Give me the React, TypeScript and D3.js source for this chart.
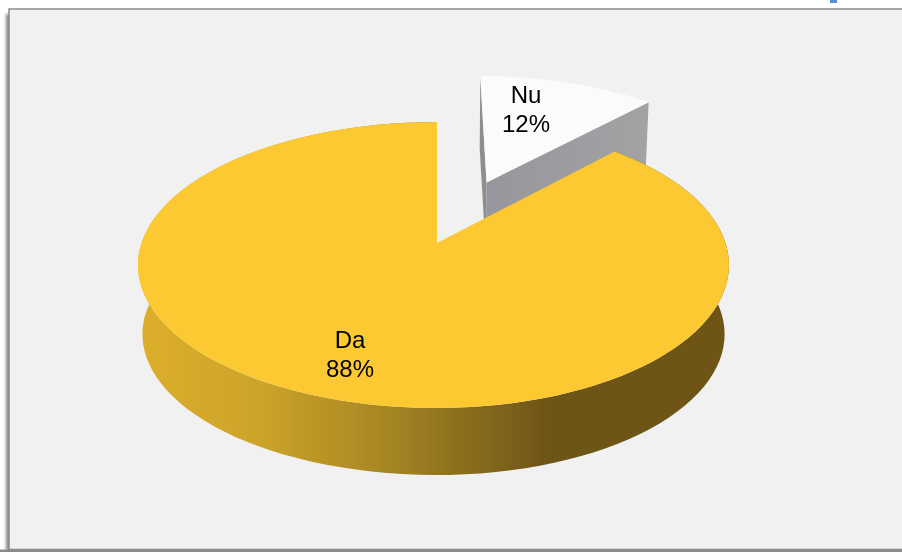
import React from "react";
import * as d3 from "d3";

const categories = ["Da", "Nu"];
const shares = [88, 12];
const sliceLabels = ["88%", "12%"];

const W = 902, H = 552;
const cx = 437, apexY = 243, BRight = 288.5, BLeft = 295.5, A = 139.6, k = 0.154;
const drop = 69.5, bottomScale = 0.985, explode = 0.5;

type Pt = [number, number];
const project = (u: number, v: number, low = false): Pt => {
  const w = 1 + k * v;
  const s = low ? bottomScale : 1;
  const B = u >= 0 ? BRight : BLeft;
  return [cx + (s * B * u) / w, apexY + (low ? drop : 0) - (s * A * v) / w];
};

const arcs = d3
  .pie<number>()
  .sort(null)
  .startAngle(0.12 * 2 * Math.PI)
  .endAngle(2.24 * Math.PI)(shares);

const line = d3.line<Pt>().curve(d3.curveLinear);

function geometry(i: number) {
  const a = arcs[i];
  const mid = (a.startAngle + a.endAngle) / 2;
  const e = i === 1 ? explode : 0;
  const ox = e * Math.sin(mid), oy = e * Math.cos(mid);
  const angles = d3.range(0, 121).map((t) => a.startAngle + ((a.endAngle - a.startAngle) * t) / 120);
  const rim = (low: boolean) => angles.map((t) => project(ox + Math.sin(t), oy + Math.cos(t), low));
  const apex = (low: boolean) => project(ox, oy, low);
  return { rimTop: rim(false), rimLow: rim(true), apexTop: apex(false), apexLow: apex(true), ox, oy };
}

const da = geometry(0);
const nu = geometry(1);

const closed = (pts: Pt[]) => line(pts) + "Z";

export default function App() {
  const nuEndTop = nu.rimTop[0], nuStartTop = nu.rimTop[120];
  const nuEndLow = nu.rimLow[0], nuStartLow = nu.rimLow[120];
  const innerLeft = closed([nuEndTop, nu.apexTop, nu.apexLow, nuEndLow]);
  const innerRight = closed([nu.apexTop, nuStartTop, nuStartLow, nu.apexLow]);
  const daWall = closed([...da.rimTop, ...[...da.rimLow].reverse()]);
  return (
    <svg width={W} height={H} viewBox={`0 0 ${W} ${H}`}
      style={{ position: "absolute", left: 0, top: 0, display: "block", background: "#fff" }}
      fontFamily="'Liberation Sans', Arial, sans-serif">
      <defs>
        <filter id="frameShadow" x="-3%" y="-3%" width="106%" height="106%">
          <feGaussianBlur stdDeviation="1.6" />
        </filter>
        <filter id="soft" x="-5%" y="-5%" width="110%" height="110%">
          <feGaussianBlur stdDeviation="0.5" />
        </filter>
        <linearGradient id="wallYellow" gradientUnits="userSpaceOnUse" x1="143" x2="725" y1="0" y2="0">
          <stop offset="0" stopColor="#dcae2a" />
          <stop offset="0.2" stopColor="#cca42b" />
          <stop offset="0.42" stopColor="#a68523" />
          <stop offset="0.7" stopColor="#6d5418" />
          <stop offset="1" stopColor="#6e5518" />
        </linearGradient>
        <linearGradient id="wallGrey" gradientUnits="userSpaceOnUse" x1="484" x2="648" y1="0" y2="0">
          <stop offset="0" stopColor="#96969c" />
          <stop offset="1" stopColor="#a3a3a5" />
        </linearGradient>
      </defs>
      <rect x={6} y={14} width={896} height={537} fill="#555" opacity={0.7} filter="url(#frameShadow)" />
      <rect x={9} y={9} width={895} height={540.5} fill="#f1f1f1" stroke="#8a8a8a" strokeWidth={1.5} />
      <rect x={0} y={549.5} width={W} height={2.5} fill="#8a8a8a" />
      <rect x={830} y={0} width={7} height={3} fill="#5b8bd0" />

      <g filter="url(#soft)">
        <path d={innerLeft} fill="#8e8e8e" />
        <path d={innerRight} fill="url(#wallGrey)" />
        <path d={closed([...nu.rimTop, nu.apexTop])} fill="#fbfbfb" />

        <path d={daWall} fill="url(#wallYellow)" />
        <path d={closed([...da.rimTop, da.apexTop])} fill="#fdc931" />

        <text textAnchor="middle" fontSize={24} fill="#000">
          <tspan x={526} y={103}>{categories[1]}</tspan>
          <tspan x={526} y={132}>{sliceLabels[1]}</tspan>
        </text>
        <text textAnchor="middle" fontSize={24} fill="#000">
          <tspan x={350} y={348}>{categories[0]}</tspan>
          <tspan x={350} y={377}>{sliceLabels[0]}</tspan>
        </text>
      </g>
    </svg>
  );
}
